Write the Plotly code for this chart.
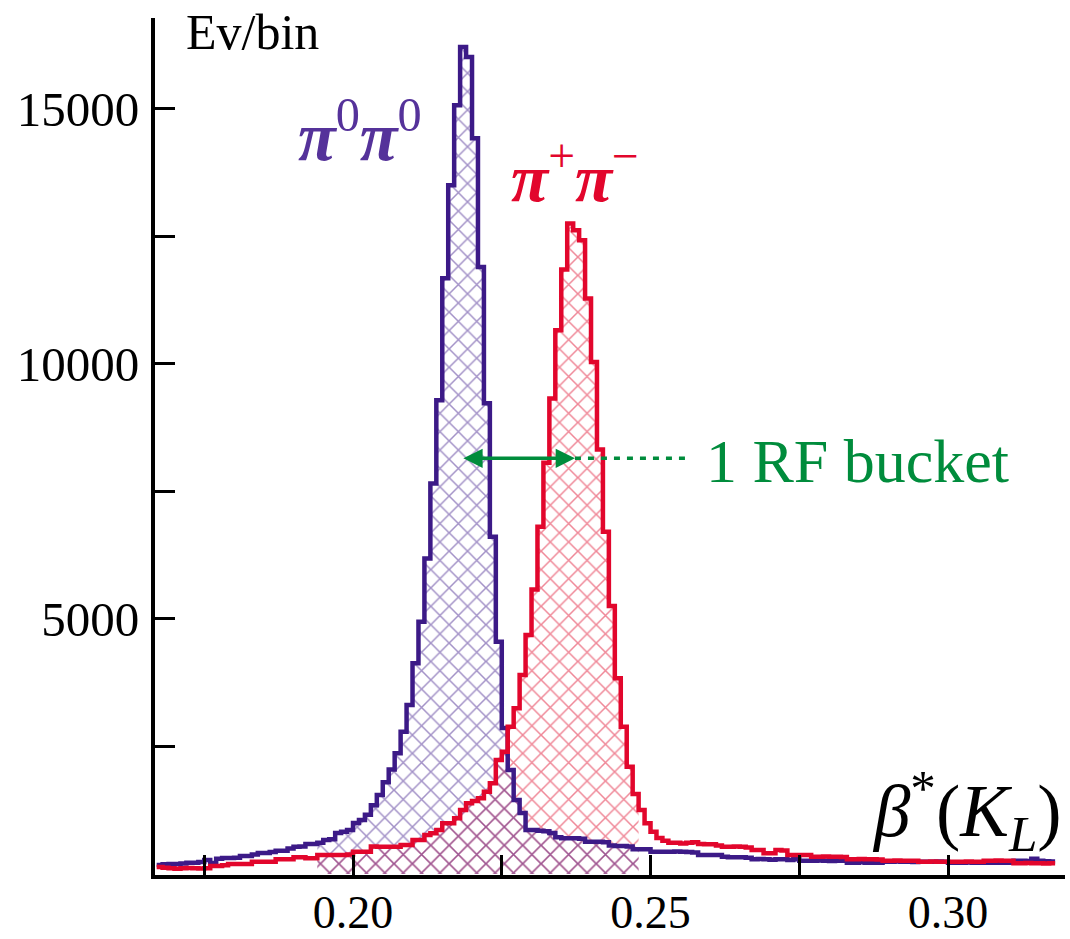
import plotly.graph_objects as go

# ---- data -------------------------------------------------------------
bin_start = 0.167
bin_width = 0.001

pi0pi0_counts = [
    176, 190, 196, 196, 205, 220, 220, 235, 274, 216,
    300, 314, 314, 320, 353, 353, 380, 412, 412, 430,
    457, 457, 500, 535, 540, 588, 588, 610, 666, 680,
    804, 830, 862, 999, 1060, 1160, 1350, 1550, 1800, 2050,
    2366, 2789, 3312, 4130, 4945, 6188, 7658, 9290, 11682, 13504,
    15072, 16215, 16020, 14425, 11903, 9232, 6611, 4553, 2862, 2038,
    1450, 1196, 862, 862, 850, 840, 804, 720, 700, 699,
    699, 690, 633, 633, 633, 620, 560, 549, 549, 540,
    484, 484, 484, 437, 437, 437, 437, 440, 437, 430,
    420, 372, 372, 372, 372, 340, 327, 327, 327, 320,
    288, 295, 288, 280, 288, 288, 275, 288, 261, 261,
    261, 265, 261, 255, 261, 261, 222, 222, 228, 222,
    222, 222, 241, 241, 245, 241, 241, 236, 241, 241,
    241, 245, 241, 222, 222, 222, 226, 222, 222, 218,
    222, 222, 222, 222, 261, 261, 255, 300, 261, 250,
    245,
]

pipi_counts = [
    137, 120, 111, 105, 111, 115, 111, 108, 111, 157,
    157, 170, 196, 196, 196, 196, 241, 241, 241, 241,
    288, 288, 288, 327, 327, 310, 310, 372, 372, 372,
    372, 372, 380, 437, 437, 437, 540, 535, 535, 535,
    535, 568, 568, 666, 666, 764, 800, 862, 993, 993,
    1091, 1254, 1386, 1430, 1484, 1613, 1777, 2234, 2397, 2887,
    3248, 3900, 4684, 5580, 6807, 8061, 9324, 10662, 11852, 12754,
    12622, 12426, 11284, 10041, 8324, 6709, 5253, 3836, 2887, 2103,
    1568, 1254, 994, 829, 706, 650, 613, 613, 600, 613,
    620, 590, 582, 582, 560, 535, 535, 540, 535, 520,
    470, 470, 406, 406, 470, 460, 372, 372, 372, 372,
    339, 339, 345, 339, 339, 335, 288, 288, 292, 288,
    288, 284, 261, 261, 265, 261, 261, 258, 241, 241,
    245, 241, 241, 238, 241, 241, 245, 241, 241, 261,
    261, 265, 261, 261, 210, 210, 214, 210, 210, 206,
    210,
]

hatch_first_bin = 27
hatch_last_bin = 80

x_tick_vals = [0.20, 0.25, 0.30]
x_tick_text = ["0.20", "0.25", "0.30"]
x_minor_vals = [0.175, 0.225, 0.275]
y_tick_vals = [5000, 10000, 15000]
y_tick_text = ["5000", "10000", "15000"]
y_minor_vals = [2500, 7500, 12500]

rf_arrow_x = [0.2183, 0.2373]
rf_arrow_y = 8150
rf_dotted_x = [0.2373, 0.2566]

# ---- styles -----------------------------------------------------------
PURPLE = "#3c1a87"
PURPLE_HATCH = "#46238f"
PURPLE_TEXT = "#55329a"
RED = "#e2062c"
RED_HATCH = "#e0102f"
GREEN = "#008c3c"
FONT = "Liberation Serif"

edges = [bin_start + i * bin_width for i in range(len(pipi_counts) + 1)]


def step_xy(counts, first, last):
    xs = edges[first:last + 2]
    ys = list(counts[first:last + 1]) + [counts[last]]
    return xs, ys


fig = go.Figure()

# hatched areas
for counts, col in ((pipi_counts, RED_HATCH), (pi0pi0_counts, PURPLE_HATCH)):
    hx, hy = step_xy(counts, hatch_first_bin, hatch_last_bin)
    fig.add_trace(go.Scatter(
        x=hx, y=hy, mode="lines", line=dict(width=0, shape="hv"),
        fill="tozeroy", fillcolor="rgba(0,0,0,0)",
        fillpattern=dict(shape="x", fgcolor=col, bgcolor="rgba(0,0,0,0)",
                         size=13, solidity=0.22),
        hoverinfo="skip", showlegend=False,
    ))

# histogram outlines
for counts, col in ((pi0pi0_counts, PURPLE), (pipi_counts, RED)):
    sx, sy = step_xy(counts, 0, len(counts) - 1)
    fig.add_trace(go.Scatter(
        x=sx, y=sy, mode="lines", line=dict(color=col, width=4.5, shape="hv"),
        showlegend=False,
    ))

# dotted green extension
fig.add_trace(go.Scatter(
    x=rf_dotted_x, y=[rf_arrow_y, rf_arrow_y], mode="lines",
    line=dict(color=GREEN, width=3.5, dash="6px,7px"), showlegend=False,
))

# double-headed arrow
fig.add_annotation(
    x=rf_arrow_x[1], y=rf_arrow_y, ax=rf_arrow_x[0], ay=rf_arrow_y,
    xref="x", yref="y", axref="x", ayref="y", text="",
    showarrow=True, arrowhead=2, startarrowhead=2, arrowside="end+start",
    arrowwidth=3.5, arrowsize=1.1, startarrowsize=1.1, arrowcolor=GREEN,
)

fig.add_annotation(
    x=0.2590, y=rf_arrow_y - 50, xref="x", yref="y", xanchor="left", yanchor="middle",
    text="1 RF bucket", showarrow=False,
    font=dict(family=FONT, size=62, color=GREEN),
)

fig.add_annotation(
    x=0.2012, y=14550, xref="x", yref="y", xanchor="center", yanchor="middle",
    text="<b><i>π</i></b><sup>0</sup><b><i>π</i></b><sup>0</sup>", showarrow=False,
    font=dict(family=FONT, size=69, color=PURPLE_TEXT),
)

fig.add_annotation(
    x=0.2373, y=13750, xref="x", yref="y", xanchor="center", yanchor="middle",
    text="<b><i>π</i></b><sup>+</sup><b><i>π</i></b><sup>−</sup>", showarrow=False,
    font=dict(family=FONT, size=68, color=RED),
)

fig.add_annotation(
    x=0.1716, y=16500, xref="x", yref="y", xanchor="left", yanchor="middle",
    text="Ev/bin", showarrow=False,
    font=dict(family=FONT, size=50, color="black"),
)

fig.add_annotation(
    x=0.3195, y=1250, xref="x", yref="y", xanchor="right", yanchor="middle",
    text="<i>β</i><sup>*</sup>(<i>K</i><sub><i>L</i></sub>)", showarrow=False,
    font=dict(family=FONT, size=73, color="black"),
)

fig.update_layout(
    width=1070, height=939,
    margin=dict(l=155, r=5, t=18, b=64, autoexpand=False),
    paper_bgcolor="white", plot_bgcolor="white",
    showlegend=False,
    font=dict(family=FONT, size=46, color="black"),
)

minor_style = dict(ticks="inside", ticklen=20, tickwidth=3, tickcolor="black", showgrid=False)

fig.update_xaxes(
    range=[0.16672, 0.31966], showgrid=False, zeroline=False,
    showline=True, linecolor="black", linewidth=4, automargin=False,
    ticks="inside", ticklen=20, tickwidth=3, tickcolor="black",
    tickvals=x_tick_vals, ticktext=x_tick_text, ticklabelstandoff=-6,
    tickfont=dict(family=FONT, size=46, color="black"),
    minor=dict(tickvals=x_minor_vals, **minor_style),
)
fig.update_yaxes(
    range=[-20, 16784], showgrid=False, zeroline=False,
    showline=True, linecolor="black", linewidth=4, automargin=False,
    ticks="inside", ticklen=20, tickwidth=3, tickcolor="black",
    tickvals=y_tick_vals, ticktext=y_tick_text, ticklabelstandoff=2,
    tickfont=dict(family=FONT, size=49, color="black"),
    minor=dict(tickvals=y_minor_vals, **minor_style),
)

fig.write_html(
    "out.html",
    config={"displayModeBar": False},
    post_script="document.body.style.margin='0';document.body.style.overflow='hidden';",
)
